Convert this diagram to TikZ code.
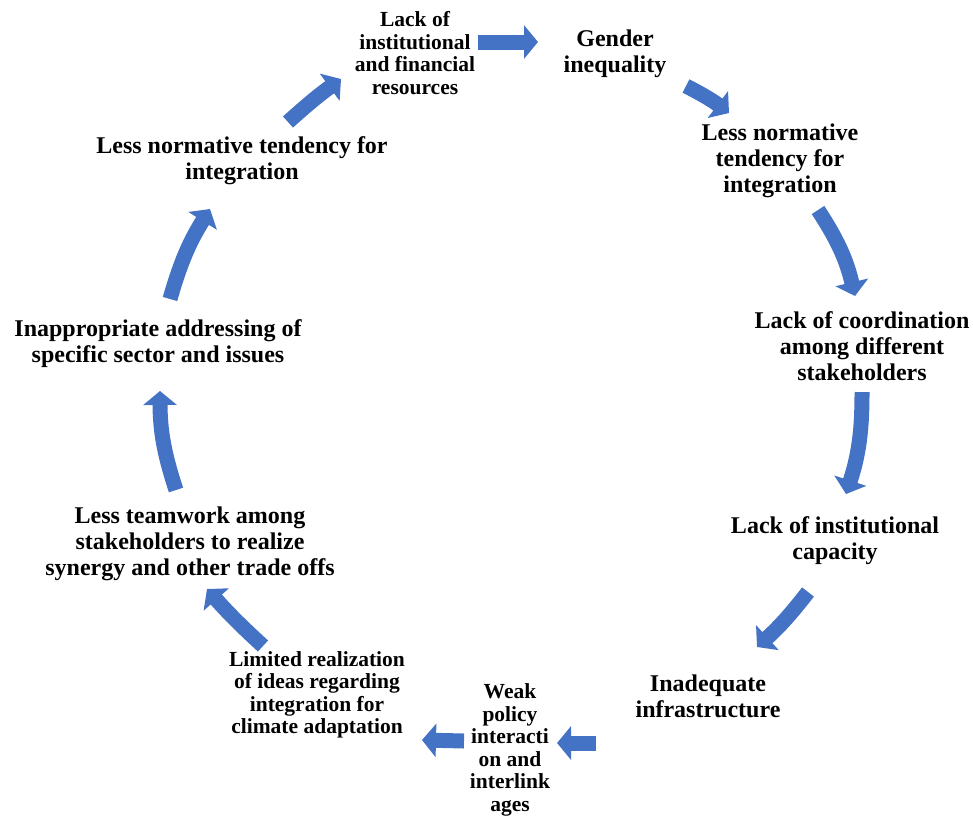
\documentclass[tikz,border=0pt]{standalone}
\usepackage{fontspec}
\setmainfont{Liberation Serif}
\usetikzlibrary{arrows.meta}
\definecolor{arrowblue}{RGB}{68,114,196}

\begin{document}
\begin{tikzpicture}[x=1pt, y=-1pt,
	every node/.style={align=center, font=\bfseries\fontsize{24}{26}\selectfont},
	small/.style={font=\bfseries\fontsize{21.5}{22.5}\selectfont},
	blockarrow/.style={draw=arrowblue, line width=15pt, -{Triangle[length=14pt, width=33pt]}}]
	\useasboundingbox (0,0) rectangle (973,817);
	% steps of the cycle
	\node[small] (res) at (415,53) {Lack of\\institutional\\and financial\\resources};
	\node (gender) at (615,54) {Gender\\inequality};
	\node (normr) at (780,161) {Less normative\\tendency for\\integration};
	\node (coord) at (862,346) {Lack of coordination\\among different\\stakeholders};
	\node (capac) at (835,541) {Lack of institutional\\capacity};
	\node (infra) at (708,696) {Inadequate\\infrastructure};
	\node[small] (policy) at (510,750) {Weak\\policy\\interacti\\on and\\interlink\\ages};
	\node[small] (ideas) at (317,695) {Limited realization\\of ideas regarding\\integration for\\climate adaptation};
	\node (team) at (190,544) {Less teamwork among\\stakeholders to realize\\synergy and other trade offs};
	\node (sector) at (158,344) {Inappropriate addressing of\\specific sector and issues};
	\node (norml) at (242,161) {Less normative tendency for\\integration};
	% arrow ends
	\coordinate (a1s) at (478,42);  \coordinate (a1e) at (538,42);
	\coordinate (a2s) at (686,86);  \coordinate (a2e) at (729,113);
	\coordinate (a3s) at (818,210); \coordinate (a3e) at (855,296);
	\coordinate (a4s) at (862,392); \coordinate (a4e) at (846,494);
	\coordinate (a5s) at (808,592); \coordinate (a5e) at (757,647);
	\coordinate (a6s) at (596,743); \coordinate (a6e) at (557,743);
	\coordinate (a7s) at (464,741); \coordinate (a7e) at (422,740);
	\coordinate (a8s) at (263,646); \coordinate (a8e) at (207,589);
	\coordinate (a9s) at (176,490); \coordinate (a9e) at (160,391);
	\coordinate (a10s) at (170,299); \coordinate (a10e) at (210,209);
	\coordinate (a11s) at (288,122); \coordinate (a11e) at (341,79);
	\draw[blockarrow] (a1s) -- (a1e);
	\draw[blockarrow] (a2s) to[bend left=5] (a2e);
	\draw[blockarrow] (a3s) to[bend left=10] (a3e);
	\draw[blockarrow] (a4s) to[bend left=9] (a4e);
	\draw[blockarrow] (a5s) to[bend left=5] (a5e);
	\draw[blockarrow] (a6s) -- (a6e);
	\draw[blockarrow] (a7s) -- (a7e);
	\draw[blockarrow] (a8s) to[bend left=3] (a8e);
	\draw[blockarrow] (a9s) to[bend left=9] (a9e);
	\draw[blockarrow] (a10s) to[bend left=8] (a10e);
	\draw[blockarrow] (a11s) to[bend left=3] (a11e);
\end{tikzpicture}
\end{document}
